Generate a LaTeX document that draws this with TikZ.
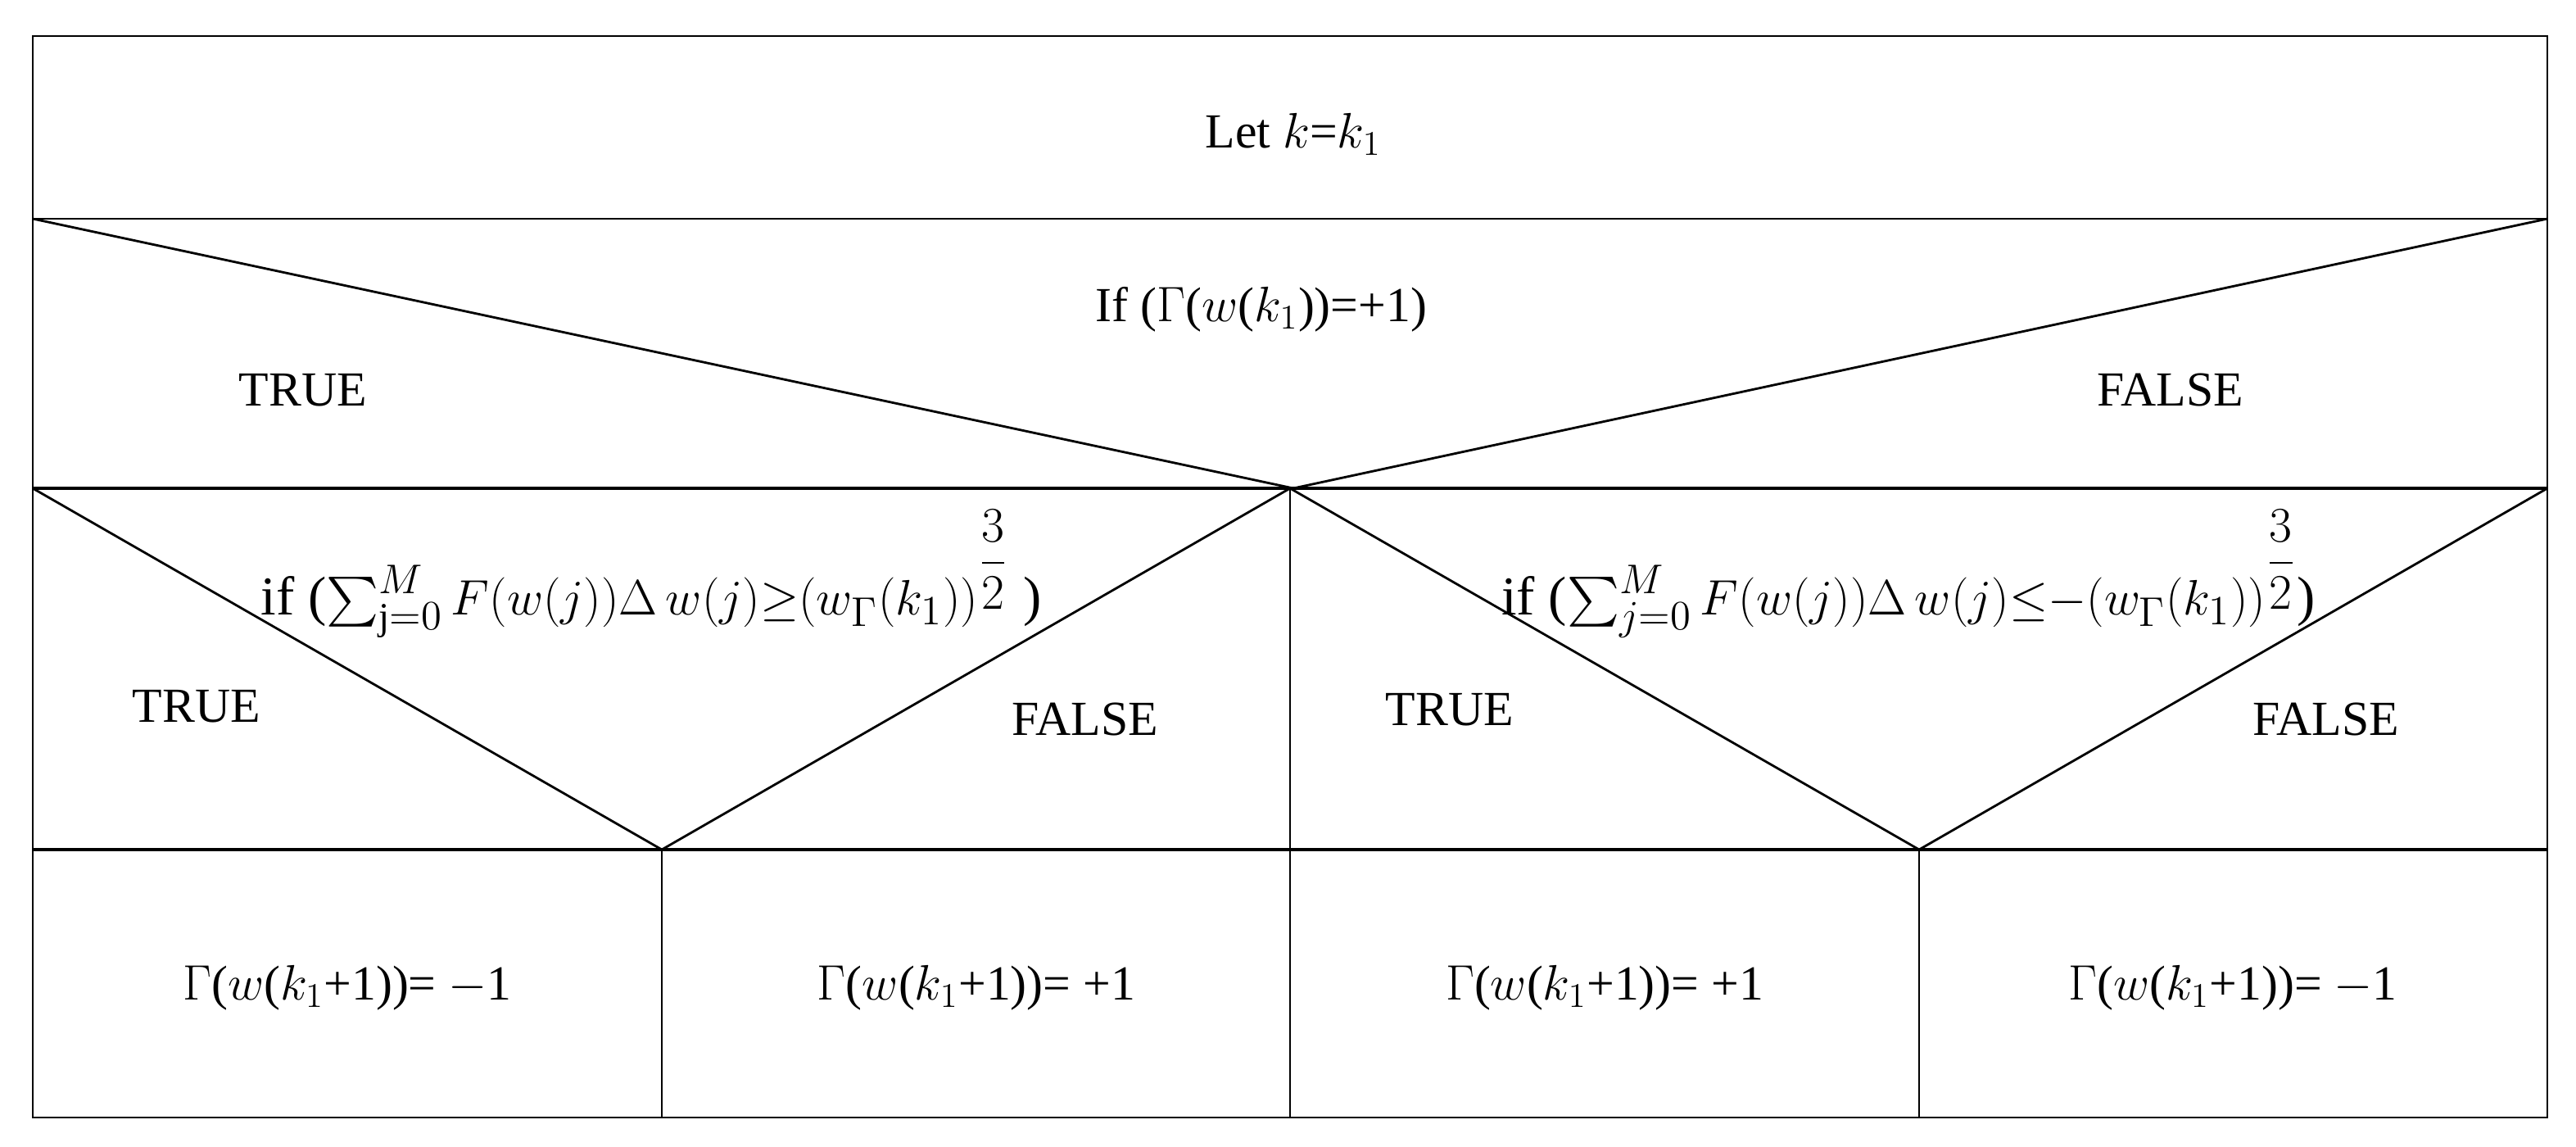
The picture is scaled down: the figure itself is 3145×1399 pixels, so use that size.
\documentclass[tikz,border=0pt]{standalone}
\usepackage{amsmath}
\usepackage{fontspec}
\setmainfont{Liberation Serif}
\begin{document}
\begin{tikzpicture}[x=0.01cm,y=-0.01cm,line width=0.8pt,
  lbl/.style={font=\fontsize{17}{20}\selectfont, inner sep=0pt},
  cond/.style={font=\fontsize{19}{22}\selectfont, inner sep=0pt}]
\useasboundingbox (0,0) rectangle (3145,1399);
% frame and rows
\draw (40,44) rectangle (3110,1364);
\draw (40,267) -- (3110,267);
\draw[line width=1.1pt] (40,596) -- (3110,596);
\draw[line width=1.1pt] (40,1037) -- (3110,1037);
\draw (1575,596) -- (1575,1364);
\draw (808,1037) -- (808,1364);
\draw (2343,1037) -- (2343,1364);
% condition triangles
\coordinate (top) at (1579,596);
\draw (40,267) -- (top) -- (3110,267);
\coordinate (lq) at (808,1037);
\coordinate (rq) at (2343,1037);
\draw (40,596) -- (lq) -- (1575,596);
\draw (1575,596) -- (rq) -- (3110,596);
% texts
\node[lbl] (let) at (1579,164) {Let $k$=$k_1$};
\node[lbl] (if1) at (1540,378) {If ($\Gamma$($w$($k_1$))=+1)};
\node[lbl] (t1) at (370,476) {TRUE};
\node[lbl] (f1) at (2650,476) {FALSE};
\node[cond] (if2) at (795,700) {if ($\sum_{\mathrm{j}=0}^{M}F(w(j))\Delta\, w(j){\geq}(w_{\Gamma}(k_1))^{\dfrac{3}{2}}$ )};
\node[cond] (if3) at (2330,700) {if ($\sum_{j=0}^{M}F(w(j))\Delta\, w(j){\leq}{-}(w_{\Gamma}(k_1))^{\dfrac{3}{2}}$)};
\node[lbl] (t2) at (240,862) {TRUE};
\node[lbl] (f2) at (1325,878) {FALSE};
\node[lbl] (t3) at (1770,866) {TRUE};
\node[lbl] (f3) at (2840,878) {FALSE};
\node[lbl] (r1) at (424,1206) {$\Gamma$($w$($k_1$+1))= $-$1};
\node[lbl] (r2) at (1192,1206) {$\Gamma$($w$($k_1$+1))= +1};
\node[lbl] (r3) at (1959,1206) {$\Gamma$($w$($k_1$+1))= +1};
\node[lbl] (r4) at (2726,1206) {$\Gamma$($w$($k_1$+1))= $-$1};
\end{tikzpicture}
\end{document}
